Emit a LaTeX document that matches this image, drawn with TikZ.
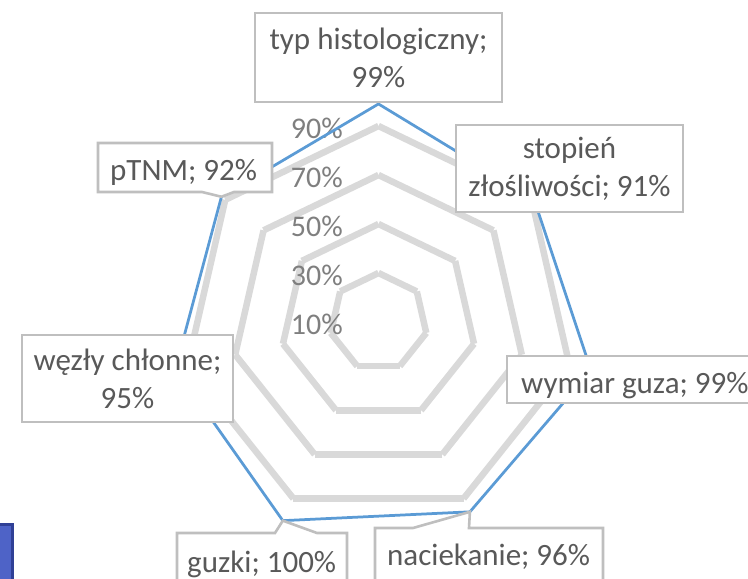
\documentclass[tikz,border=0pt]{standalone}
\usepackage{fontspec}
\setmainfont{Carlito}
\usetikzlibrary{calc}
\definecolor{gridgray}{HTML}{D9D9D9}
\definecolor{seriesblue}{HTML}{5B9BD5}
\definecolor{boxgray}{HTML}{BFBFBF}
\definecolor{labeltext}{HTML}{595959}
\definecolor{ticktext}{HTML}{7F7F7F}
\definecolor{legendfill}{RGB}{78,99,199}
\definecolor{legenddraw}{RGB}{48,64,150}
\begin{document}
\begin{tikzpicture}[x=1pt,y=-1pt,
  gridline/.style={draw=gridgray,line width=6.5pt,line cap=butt},
  seriesline/.style={draw=seriesblue,line width=2.75pt,line join=round},
  callout/.style={draw=boxgray,fill=white,line width=2.6pt,line join=miter,miter limit=2},
  datalabel/.style={text=labeltext,font=\fontsize{31}{38}\selectfont,inner sep=0pt},
  ticklabel/.style={text=ticktext,font=\fontsize{30}{36}\selectfont,inner sep=0pt,anchor=base east}]
\useasboundingbox (0,0) rectangle (748,579);
\def\cx{378.5}
\def\cy{322}
% radial grid: heptagons at 30%, 50%, 70%, 90% (centre = 10%)
\foreach \k in {1,...,4}{
  \foreach \i in {0,...,6}{
    \draw[gridline]
      ({\cx+49*\k*sin(\i*360/7)},{\cy-49*\k*cos(\i*360/7)}) --
      ({\cx+49*\k*sin((\i+1)*360/7)},{\cy-49*\k*cos((\i+1)*360/7)});
  }
}
% value axis labels
\foreach \p [count=\n from 0] in {10,30,50,70,90}
  \node[ticklabel] (tick\p) at (343,{\cy-49*\n+12.5}) {\p\%};
% data points, clockwise from the top
\foreach \v [count=\i from 0] in {99,91,99,96,100,95,92}
  \coordinate (d\i) at ({\cx+(\v-10)*2.45*sin(\i*360/7)},{\cy-(\v-10)*2.45*cos(\i*360/7)});
\draw[seriesline] (d0) -- (d1) -- (d2) -- (d3) -- (d4) -- (d5) -- (d6) -- cycle;
% data labels
\draw[callout] (255,13) rectangle (502,102);
\node[datalabel,align=center] (lbl0) at (378.5,57.5) {typ histologiczny;\\99\%};
\draw[callout] (456,125) rectangle (683,212);
\node[datalabel,align=center] (lbl1) at (569.5,168.5) {stopień\\złośliwości; 91\%};
\draw[callout] (507,356) rectangle (763,403);
\node[datalabel,anchor=base west] (lbl2) at (521,393) {wymiar guza; 99\%};
\draw[callout] (375,528) -- (413,528) -- (d3) -- (469,528) -- (603,528) -- (603,592) -- (375,592) -- cycle;
\node[datalabel,anchor=base west] (lbl3) at (387,565) {naciekanie; 96\%};
\draw[callout] (177,533) -- (275,533) -- (d4) -- (317,533) -- (347,533) -- (347,592) -- (177,592) -- cycle;
\node[datalabel,anchor=base west] (lbl4) at (187,572) {guzki; 100\%};
\draw[callout] (22,335) rectangle (233,422);
\node[datalabel,align=center] (lbl5) at (127.5,378.5) {węzły chłonne;\\95\%};
\draw[callout] (98,143) -- (272,143) -- (272,192) -- (234,192) -- (d6) -- (202,192) -- (98,192) -- cycle;
\node[datalabel,anchor=base west] (lbl6) at (110,180) {pTNM; 92\%};
% partly visible legend block
\draw[fill=legendfill,draw=legenddraw,line width=3pt] (-10,524.5) rectangle (12.5,600);
\end{tikzpicture}
\end{document}
